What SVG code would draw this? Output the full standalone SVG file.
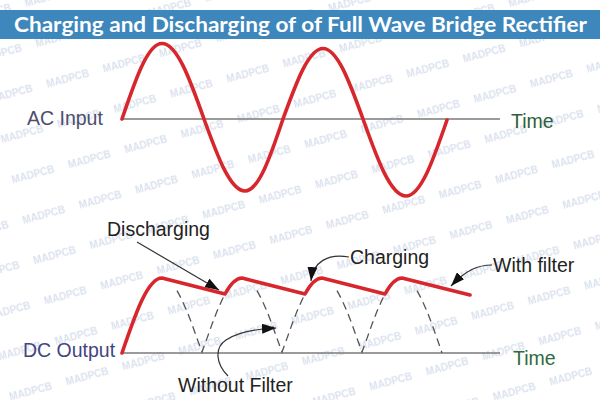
<svg xmlns="http://www.w3.org/2000/svg" xmlns:xlink="http://www.w3.org/1999/xlink" width="600" height="400" viewBox="0 0 600 400">
  <style>
    .lbl { font-family: "Liberation Sans", Arial, sans-serif; font-size: 19.5px; fill: #222; }
    .axis { stroke: #7a7a7a; stroke-width: 1.6; fill: none; }
    .wave { stroke: #d7262c; stroke-width: 3.6; fill: none; stroke-linejoin: round; stroke-linecap: round; }
    .dash { stroke: #555; stroke-width: 1.3; fill: none; stroke-dasharray: 8 5; }
    .ptr { stroke: #333; stroke-width: 1.2; fill: none; marker-end: url(#ah); }
    .wm { font-family: "Liberation Sans", Arial, sans-serif; font-size: 10px; font-weight: bold; fill: #dbe2ee; }
  </style>
  <defs>
    <marker id="ah" viewBox="0 0 14 10" refX="14" refY="5" markerWidth="14" markerHeight="10" markerUnits="userSpaceOnUse" orient="auto">
      <path d="M0,0 L14,5 L0,10 Z" fill="#111"/>
    </marker>
    <pattern id="wmp" patternUnits="userSpaceOnUse" x="16" y="-11.5" width="58.4" height="41.8" patternTransform="rotate(-15)">
      <text class="wm" x="29.2" y="24.4" text-anchor="middle">MADPCB</text>
    </pattern>
    <path id="vdash" d="M177,290.6 L182,300 L187,311.3 L192,324.3 L197,338.4 L202,352 L207,338.4 L212,324.3 L217,311.3 L222,300 L225,294"/>
  </defs>

  <rect x="0" y="0" width="600" height="400" fill="#ffffff"/>
  <rect x="0" y="0" width="600" height="400" fill="url(#wmp)"/>

  <g id="title">
    <rect x="0" y="10" width="600" height="29" fill="#3d87bd"/>
    <text x="14" y="32" font-family="Lato, 'Open Sans', sans-serif" font-weight="700" font-size="21" fill="#ffffff" textLength="573" lengthAdjust="spacingAndGlyphs">Charging and Discharging of of Full Wave Bridge Rectifier</text>
  </g>

  <g id="ac-input">
    <line class="axis" x1="122" y1="119" x2="500" y2="119"/>
    <path class="wave" d="M122,119 C135.4,79.4 147.7,43.5 162,43.5 C177,43.5 190,79.4 204,119 C217.7,156.8 230.3,191 245,191 C258.6,191 270.3,156.8 283,119 C296.4,82 308.7,48.5 323,48.5 C337.3,48.5 349.6,82 363,119 C377.4,159.4 390.6,196 406,196 C420.7,196 433.3,159.9 447,120"/>
    <text class="lbl" x="27" y="125" style="fill:#4b4e6d">AC Input</text>
    <text class="lbl" x="511" y="128" style="fill:#2f5e3b">Time</text>
  </g>

  <g id="dc-output">
    <line class="axis" x1="122" y1="353" x2="500" y2="353"/>
    <g id="without-filter-wave">
      <use xlink:href="#vdash" href="#vdash" class="dash"/>
      <use xlink:href="#vdash" href="#vdash" class="dash" transform="translate(80,0)"/>
      <use xlink:href="#vdash" href="#vdash" class="dash" transform="translate(160,0)"/>
      <path class="dash" d="M417,290.6 L422,300 L427,311.3 L432,324.3 L437,338.4 L442,353"/>
    </g>
    <path id="with-filter-wave" class="wave" d="M122,353 C135.4,313.6 147.7,278 162,278 L225,294 Q233.8,278 242,278 L305,294 Q313.8,278 322,278 L385,294 Q393.8,278 402,278 L470,295"/>
    <text class="lbl" x="23" y="357" style="fill:#43457f">DC Output</text>
    <text class="lbl" x="513" y="365" style="fill:#2e6b3d">Time</text>
  </g>

  <g id="connectors">
    <path class="ptr" d="M137,242 L219,290"/>
    <path class="ptr" d="M349,257 C328,253 313,262 311,281"/>
    <path class="ptr" d="M492,265 C478,265 466,270 451,286"/>
    <path class="ptr" d="M228,376 C216,364 214,348 226,340 C238,332 255,329 276,328"/>
  </g>

  <g id="labels">
    <text class="lbl" x="107" y="236">Discharging</text>
    <text class="lbl" x="350" y="264">Charging</text>
    <text class="lbl" x="493" y="272">With filter</text>
    <text class="lbl" x="178" y="392">Without Filter</text>
  </g>
</svg>
